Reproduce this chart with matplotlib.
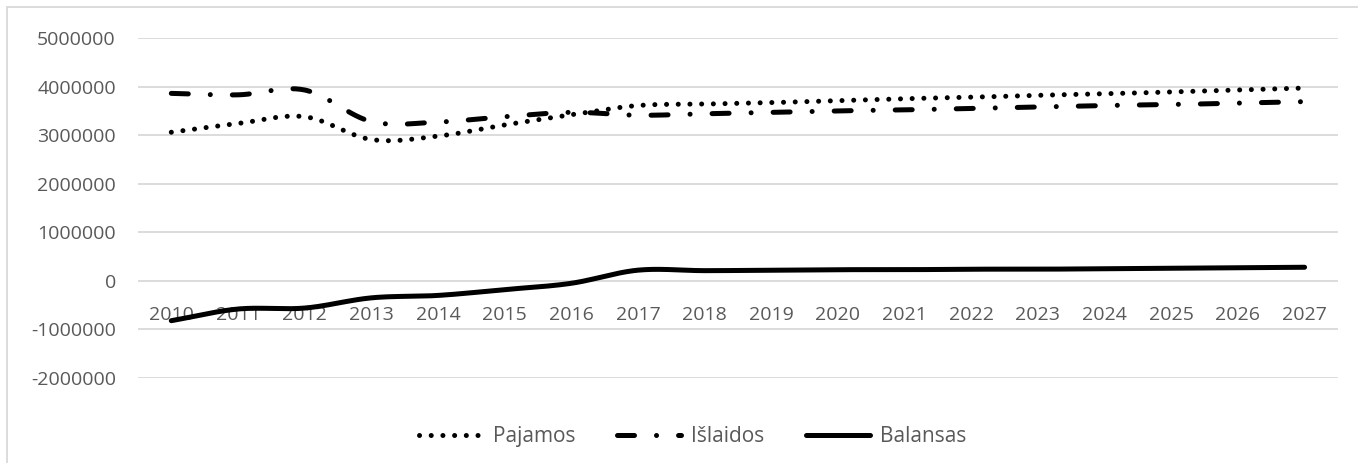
import numpy as np
import matplotlib.pyplot as plt
from matplotlib.patches import Rectangle

years = list(range(2010, 2028))
pajamos = [3.06, 3.24, 3.38, 2.91, 2.98, 3.21, 3.42, 3.61, 3.64, 3.67, 3.71,
           3.75, 3.78, 3.82, 3.85, 3.89, 3.93, 3.97]
islaidos = [3.86, 3.83, 3.93, 3.28, 3.27, 3.38, 3.47, 3.41, 3.44, 3.47, 3.50,
            3.52, 3.55, 3.58, 3.61, 3.63, 3.66, 3.69]
balansas = [-0.82, -0.58, -0.56, -0.35, -0.30, -0.18, -0.05, 0.22, 0.21, 0.22,
            0.23, 0.23, 0.24, 0.24, 0.25, 0.26, 0.27, 0.28]
yticks = [-2000000, -1000000, 0, 1000000, 2000000, 3000000, 4000000, 5000000]


def smooth(y, n=30):
    # Catmull-Rom curve through the points, like Excel's smoothed line
    y = np.asarray(y, dtype=float) * 1e6
    x = np.arange(len(y), dtype=float)
    px = np.concatenate([[2 * x[0] - x[1]], x, [2 * x[-1] - x[-2]]])
    py = np.concatenate([[2 * y[0] - y[1]], y, [2 * y[-1] - y[-2]]])
    xs, ys = [], []
    t = np.linspace(0, 1, n)
    for i in range(1, len(px) - 2):
        for p, out in ((px, xs), (py, ys)):
            p0, p1, p2, p3 = p[i - 1], p[i], p[i + 1], p[i + 2]
            out.extend(0.5 * ((2 * p1) + (-p0 + p2) * t
                              + (2 * p0 - 5 * p1 + 4 * p2 - p3) * t ** 2
                              + (-p0 + 3 * p1 - 3 * p2 + p3) * t ** 3))
    return xs, ys


plt.rcParams['font.family'] = ['Open Sans', 'DejaVu Sans']
fig = plt.figure(figsize=(13.58, 4.63), dpi=100)
ax = fig.add_axes([0.1016, 0.1836, 0.8836, 0.7343])

# chart border (top and left edges show, the rest is cut off)
fig.patches.append(Rectangle((7 / 1358, -0.1), 1.2, 1 - 7 / 463 + 0.1,
                             transform=fig.transFigure, fill=False,
                             edgecolor='#d9d9d9', lw=1.3))

lw = 3.6
x, y = smooth(pajamos)
ax.plot(x, y, color='black', lw=lw, linestyle=(0, (0.01, 2.33)),
        dash_capstyle='round', label='Pajamos')
x, y = smooth(islaidos)
ax.plot(x, y, color='black', lw=lw, linestyle=(0, (3.4, 4.4, 0.01, 4.4)),
        dash_capstyle='round', label='Išlaidos')
x, y = smooth(balansas)
ax.plot(x, y, color='black', lw=lw, solid_capstyle='round', label='Balansas')

ax.set_xlim(-0.5, len(years) - 0.5)
ax.set_ylim(-2000000, 5000000)
ax.set_yticks(yticks)
ax.set_yticklabels([str(v) for v in yticks])
ax.set_xticks(range(len(years)))
ax.set_xticklabels([str(v) for v in years])
ax.grid(axis='y', color='#d9d9d9', lw=1.3)
ax.set_axisbelow(True)
for s in ax.spines.values():
    s.set_visible(False)
ax.spines['bottom'].set_position(('data', 0))
ax.tick_params(axis='both', length=0, labelsize=14, colors='#595959')
ax.tick_params(axis='y', pad=16)
ax.tick_params(axis='x', pad=18)

ax.legend(loc='center', bbox_to_anchor=(0.462, -0.172),
          ncol=3, frameon=False, fontsize=15, handlelength=3.1,
          handletextpad=0.45, columnspacing=2.0, labelcolor='#595959')

fig.savefig('out.png', dpi=100)
